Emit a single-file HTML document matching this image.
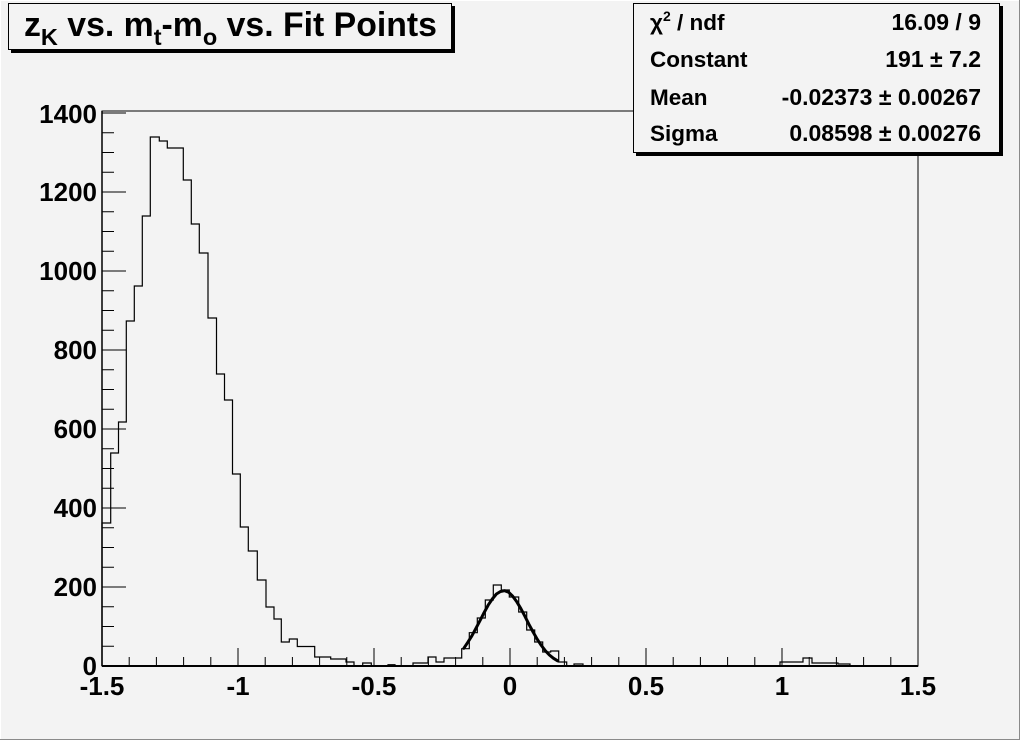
<!DOCTYPE html>
<html><head><meta charset="utf-8"><style>
html,body{margin:0;padding:0;background:#f3f3f3}
svg{display:block}
text{font-family:"Liberation Sans",Arial,sans-serif;font-weight:bold;fill:#000}
</style></head><body>
<svg width="1020" height="740" viewBox="0 0 1020 740" xmlns="http://www.w3.org/2000/svg">
<rect x="0" y="0" width="1020" height="740" fill="#f3f3f3"/>
<rect x="0.5" y="0.5" width="1019" height="739" fill="none" stroke="#ffffff" stroke-width="1"/>
<line x1="1019.5" y1="0" x2="1019.5" y2="740" stroke="#8a8a8a"/>
<line x1="0" y1="739.5" x2="1020" y2="739.5" stroke="#8a8a8a"/>
<rect x="102" y="111" width="816" height="555" fill="#f3f3f3" stroke="#000" stroke-width="1"/>
<path fill="none" stroke="#000" stroke-width="1.2" d="M102,666 V523 H110.7 V453 H118.5 V422 H126.3 V321 H134.3 V286 H142.3 V216 H150.3 V137 H159.3 V141 H167.3 V148 H183.3 V180 H191.3 V224 H199.3 V253 H208 V318 H216.5 V374 H224.5 V400 H232.5 V474 H240.3 V527 H248.3 V551 H257.3 V580 H266 V607 H274 V619 H281.3 V642 H289.3 V639 H297.3 V646.5 H314.7 V657 H330.7 V659 H346 V662 H354 V666 H362.7 V663 H371.3 V666 H388 V664.7 H395 V666 H413 V663 H428 V657 H436 V662 H444 V658 H461.7 V648.7 H469.3 V632.7 H477.3 V618 H485.3 V600 H493.3 V585 H501.3 V590 H509.3 V597 H518.7 V612 H526.7 V630 H534.7 V642 H542.7 V652 H550.7 V651 H558.7 V662 H566.7 V666 H574 V664 H583 V666 H780 V662 H803 V658 H812 V663 H838 V664 H850 V666 H918"/>
<polyline fill="none" stroke="#000" stroke-width="3" stroke-linejoin="round" stroke-linecap="round" points="463.8,648.3 467.8,642.3 471.9,635.8 476,628.2 480.1,620.4 484.1,612.6 488.2,605.1 492.3,599 496.4,594 500.5,591.5 504.6,590.7 508.6,592.2 512.7,596.2 516.8,601.8 520.9,608.7 525,616.4 529,624.4 533.1,632 537.2,639.2 541.3,645.4 545.4,650.8 549.4,655 553.5,658.3 557.6,660.8"/>
<g stroke="#000" stroke-width="1">
<path d="M102,666V648 M238,666V648 M374,666V648 M510,666V648 M646,666V648 M782,666V648 M918,666V648"/>
<path d="M129.2,666V657 M156.4,666V657 M183.6,666V657 M210.8,666V657 M265.2,666V657 M292.4,666V657 M319.6,666V657 M346.8,666V657 M401.2,666V657 M428.4,666V657 M455.6,666V657 M482.8,666V657 M537.2,666V657 M564.4,666V657 M591.6,666V657 M618.8,666V657 M673.2,666V657 M700.4,666V657 M727.6,666V657 M754.8,666V657 M809.2,666V657 M836.4,666V657 M863.6,666V657 M890.8,666V657"/>
</g>
<g stroke="#000" stroke-width="1">
<path d="M102,666H126 M102,587H126 M102,508H126 M102,429H126 M102,350H126 M102,271H126 M102,192H126 M102,113H126"/>
<path d="M102,646.25H114 M102,626.5H114 M102,606.75H114 M102,567.25H114 M102,547.5H114 M102,527.75H114 M102,488.25H114 M102,468.5H114 M102,448.75H114 M102,409.25H114 M102,389.5H114 M102,369.75H114 M102,330.25H114 M102,310.5H114 M102,290.75H114 M102,251.25H114 M102,231.5H114 M102,211.75H114 M102,172.25H114 M102,152.5H114 M102,132.75H114"/>
</g>
<line x1="102" y1="666" x2="918" y2="666" stroke="#000" stroke-width="2"/>
<line x1="102" y1="111" x2="102" y2="666" stroke="#000" stroke-width="1.5"/>
<g font-size="26" text-anchor="end">
<text x="97" y="675">0</text>
<text x="97" y="596">200</text>
<text x="97" y="517">400</text>
<text x="97" y="438">600</text>
<text x="97" y="359">800</text>
<text x="97" y="280">1000</text>
<text x="97" y="201">1200</text>
<text x="97" y="123">1400</text>
</g>
<g font-size="26" text-anchor="middle">
<text x="102" y="695">-1.5</text>
<text x="238" y="695">-1</text>
<text x="374" y="695">-0.5</text>
<text x="510" y="695">0</text>
<text x="646" y="695">0.5</text>
<text x="782" y="695">1</text>
<text x="918" y="695">1.5</text>
</g>
<rect x="11" y="6" width="444" height="47" fill="#000"/>
<rect x="8.5" y="3.5" width="443" height="46" fill="#f3f3f3" stroke="#000"/>
<text x="24" y="36" font-size="33.8">z<tspan font-size="23.5" dy="9">K</tspan><tspan dy="-9"> vs. m</tspan><tspan font-size="23.5" dy="9">t</tspan><tspan dy="-9">-m</tspan><tspan font-size="23.5" dy="9">o</tspan><tspan dy="-9"> vs. Fit Points</tspan></text>
<rect x="636" y="6" width="367" height="150" fill="#000"/>
<rect x="633.5" y="3.5" width="366" height="149" fill="#f3f3f3" stroke="#000"/>
<g font-size="22.5">
<text x="650" y="30">χ<tspan font-size="14" dy="-9">2</tspan><tspan dy="9"> / ndf</tspan></text>
<text x="650" y="67">Constant</text>
<text x="650" y="105">Mean</text>
<text x="650" y="141">Sigma</text>
</g>
<g font-size="23" text-anchor="end">
<text x="981" y="30">16.09 / 9</text>
<text x="981" y="67">191 ± 7.2</text>
<text x="981" y="105">-0.02373 ± 0.00267</text>
<text x="981" y="141">0.08598 ± 0.00276</text>
</g>
</svg>
</body></html>
